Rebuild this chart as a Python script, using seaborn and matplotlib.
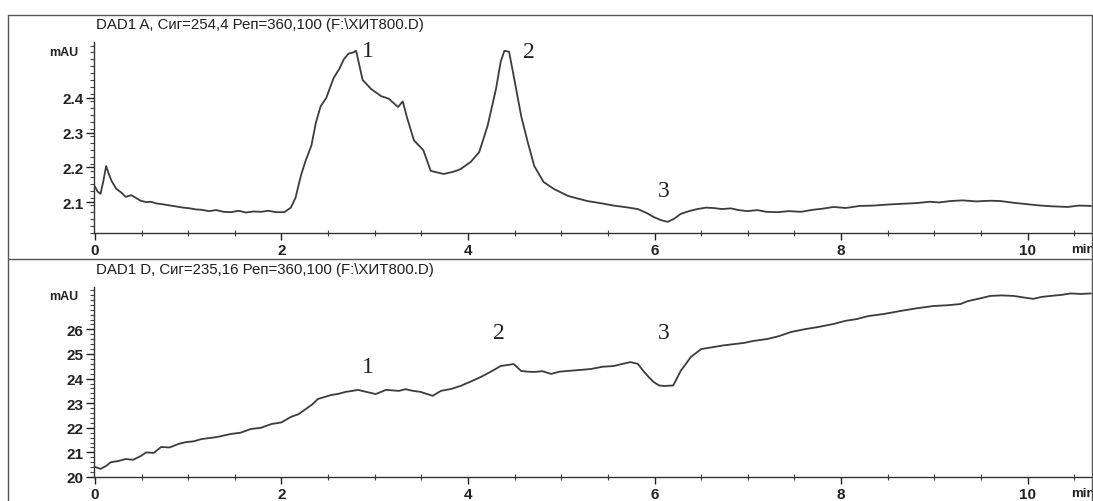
import numpy as np
import pandas as pd
import seaborn as sns
import matplotlib
matplotlib.use("Agg")
import matplotlib.pyplot as plt
from matplotlib.lines import Line2D
from matplotlib.ticker import MultipleLocator, FixedLocator

# ---- data ----
time_a = [0.00, 0.03, 0.06, 0.09, 0.12, 0.15, 0.18, 0.23, 0.28, 0.33, 0.39, 0.44,
          0.49, 0.55, 0.60, 0.66, 0.72, 0.81, 0.88, 0.95, 1.02, 1.08, 1.14, 1.22,
          1.30, 1.38, 1.46, 1.54, 1.62, 1.70, 1.78, 1.86, 1.94, 2.03, 2.10, 2.15,
          2.21, 2.26, 2.32, 2.37, 2.42, 2.48, 2.56, 2.62, 2.67, 2.72, 2.77, 2.80,
          2.83, 2.87, 2.96, 3.07, 3.15, 3.25, 3.30, 3.35, 3.42, 3.52, 3.60, 3.74,
          3.85, 3.92, 4.03, 4.12, 4.21, 4.30, 4.35, 4.39, 4.44, 4.49, 4.57, 4.64,
          4.71, 4.81, 4.92, 5.07, 5.18, 5.28, 5.42, 5.56, 5.70, 5.82, 5.92, 5.99,
          6.07, 6.14, 6.21, 6.28, 6.37, 6.46, 6.55, 6.63, 6.72, 6.82, 6.90, 7.00,
          7.10, 7.20, 7.32, 7.44, 7.57, 7.70, 7.80, 7.92, 8.05, 8.20, 8.35, 8.50,
          8.64, 8.80, 8.95, 9.05, 9.17, 9.30, 9.45, 9.60, 9.71, 9.85, 9.96, 10.10,
          10.25, 10.43, 10.55, 10.68]
signal_a = [2.145, 2.130, 2.124, 2.160, 2.204, 2.180, 2.160, 2.138, 2.128, 2.115, 2.120, 2.112,
            2.104, 2.100, 2.101, 2.096, 2.094, 2.090, 2.087, 2.084, 2.082, 2.079, 2.078, 2.074,
            2.077, 2.072, 2.071, 2.075, 2.070, 2.073, 2.072, 2.075, 2.071, 2.071, 2.084, 2.112,
            2.178, 2.220, 2.262, 2.330, 2.376, 2.400, 2.458, 2.484, 2.512, 2.528, 2.531, 2.536,
            2.500, 2.452, 2.426, 2.405, 2.398, 2.374, 2.390, 2.340, 2.278, 2.250, 2.190, 2.181,
            2.188, 2.195, 2.216, 2.244, 2.320, 2.426, 2.504, 2.536, 2.533, 2.463, 2.348, 2.273,
            2.204, 2.158, 2.138, 2.118, 2.110, 2.103, 2.097, 2.090, 2.085, 2.080, 2.068, 2.057,
            2.048, 2.043, 2.052, 2.066, 2.074, 2.080, 2.084, 2.083, 2.080, 2.082, 2.077, 2.074,
            2.077, 2.072, 2.071, 2.074, 2.072, 2.078, 2.081, 2.086, 2.083, 2.089, 2.090, 2.093,
            2.095, 2.097, 2.101, 2.099, 2.103, 2.105, 2.102, 2.104, 2.103, 2.098, 2.095, 2.091,
            2.088, 2.086, 2.090, 2.089]

time_d = [0.00, 0.06, 0.12, 0.17, 0.25, 0.33, 0.41, 0.49, 0.55, 0.63, 0.71, 0.80,
          0.90, 0.98, 1.06, 1.14, 1.30, 1.46, 1.56, 1.67, 1.78, 1.89, 2.00, 2.10,
          2.18, 2.26, 2.33, 2.39, 2.46, 2.53, 2.61, 2.69, 2.76, 2.82, 2.92, 3.01,
          3.12, 3.26, 3.33, 3.41, 3.49, 3.62, 3.71, 3.82, 3.92, 4.03, 4.14, 4.24,
          4.35, 4.42, 4.49, 4.57, 4.64, 4.71, 4.80, 4.89, 4.98, 5.07, 5.20, 5.32,
          5.44, 5.56, 5.66, 5.74, 5.82, 5.88, 5.94, 5.99, 6.05, 6.10, 6.20, 6.28,
          6.39, 6.50, 6.63, 6.74, 6.85, 6.96, 7.06, 7.21, 7.33, 7.46, 7.60, 7.76,
          7.92, 8.05, 8.17, 8.29, 8.45, 8.64, 8.80, 8.99, 9.14, 9.28, 9.36, 9.48,
          9.60, 9.72, 9.85, 9.95, 10.06, 10.15, 10.25, 10.36, 10.46, 10.57, 10.68]
signal_d = [20.41, 20.33, 20.45, 20.60, 20.65, 20.73, 20.70, 20.85, 21.00, 20.98, 21.22, 21.20,
            21.35, 21.42, 21.45, 21.54, 21.62, 21.75, 21.80, 21.95, 22.00, 22.15, 22.22, 22.44,
            22.55, 22.76, 22.95, 23.17, 23.25, 23.33, 23.38, 23.46, 23.50, 23.54, 23.45, 23.37,
            23.54, 23.50, 23.57, 23.50, 23.46, 23.30, 23.50, 23.58, 23.70, 23.88, 24.07, 24.27,
            24.51, 24.55, 24.59, 24.31, 24.28, 24.27, 24.30, 24.19, 24.28, 24.31, 24.35, 24.39,
            24.48, 24.51, 24.60, 24.67, 24.60, 24.31, 24.05, 23.86, 23.72, 23.70, 23.72, 24.31,
            24.88, 25.20, 25.28, 25.35, 25.40, 25.45, 25.53, 25.61, 25.72, 25.89, 26.00, 26.10,
            26.22, 26.35, 26.42, 26.54, 26.62, 26.75, 26.85, 26.95, 26.98, 27.03, 27.15, 27.25,
            27.36, 27.38, 27.36, 27.30, 27.24, 27.32, 27.36, 27.40, 27.46, 27.44, 27.46]

titles = ["DAD1 A, Сиг=254,4 Реп=360,100 (F:\\ХИТ800.D)",
          "DAD1 D, Сиг=235,16 Реп=360,100 (F:\\ХИТ800.D)"]
peak_labels = ["1", "2", "3"]
peak_pos_a = [(2.93, 2.538), (4.65, 2.535), (6.10, 2.132)]
peak_pos_d = [(2.93, 24.51), (4.33, 25.89), (6.10, 25.89)]
yticks_a = [2.1, 2.2, 2.3, 2.4]
yticks_d = [20, 21, 22, 23, 24, 25, 26]
xticks = [0, 2, 4, 6, 8, 10]

sns.set_theme(style="white")
plt.rcParams["font.family"] = ["Liberation Sans", "DejaVu Sans"]

W, H = 1093, 502
fig = plt.figure(figsize=(W / 100, H / 100), dpi=100)

line_col = "#3c3c3c"


def px(x0, y0, x1, y1):
    return [x0 / W, 1 - y1 / H, (x1 - x0) / W, (y1 - y0) / H]


panels = [
    dict(rect=px(94, 16, 1092, 234), t=time_a, v=signal_a, ylim=(2.011, 2.639),
         spine_top=2.561, mau=2.533, yticks=yticks_a, minor=0.02, title=titles[0],
         title_y=25, peaks=peak_pos_a),
    dict(rect=px(94, 260, 1092, 478), t=time_d, v=signal_d, ylim=(20.0, 28.86),
         spine_top=27.72, mau=27.36, yticks=yticks_d, minor=0.2, title=titles[1],
         title_y=270, peaks=peak_pos_d),
]

for p in panels:
    ax = fig.add_axes(p["rect"])
    df = pd.DataFrame({"t": p["t"], "v": p["v"]})
    sns.lineplot(data=df, x="t", y="v", ax=ax, color=line_col, lw=1.3,
                 estimator=None, sort=False)
    ax.set_xlim(-0.01, 10.69)
    ax.set_ylim(*p["ylim"])
    ax.set_xlabel("")
    ax.set_ylabel("")
    ax.set_facecolor("none")
    for s in ["top", "right"]:
        ax.spines[s].set_visible(False)
    ax.spines["left"].set_bounds(p["ylim"][0], p["spine_top"])
    for s in ["left", "bottom"]:
        ax.spines[s].set_color("#333333")
        ax.spines[s].set_linewidth(1.0)

    ax.xaxis.set_major_locator(FixedLocator(xticks))
    ax.xaxis.set_minor_locator(MultipleLocator(0.5))
    ax.yaxis.set_major_locator(FixedLocator(p["yticks"]))
    ax.yaxis.set_minor_locator(FixedLocator(
        np.arange(p["ylim"][0], p["spine_top"], p["minor"])))
    ax.tick_params(axis="y", which="major", direction="out", length=6, width=1,
                   pad=1.5, labelsize=11, colors="#222222", left=True)
    ax.tick_params(axis="y", which="minor", direction="out", length=3, width=0.8,
                   left=True, colors="#444444")
    ax.tick_params(axis="x", which="major", direction="out", length=5, width=1,
                   pad=2, labelsize=11, colors="#222222", bottom=True)
    ax.tick_params(axis="x", which="minor", direction="inout", length=4, width=0.8,
                   bottom=True, colors="#444444")
    for lab in ax.get_xticklabels() + ax.get_yticklabels():
        lab.set_fontweight("bold")

    ax.text(-0.016, p["mau"], "mAU", transform=ax.get_yaxis_transform(),
            ha="right", va="center", fontsize=9, fontweight="bold", color="#222222")
    ax.text(0.979, -0.075, "min", transform=ax.transAxes, ha="left", va="center",
            fontsize=9.5, fontweight="bold", color="#222222", clip_on=False)

    fig.text(96 / W, 1 - p["title_y"] / H, p["title"], ha="left", va="center",
             fontsize=10.8, color="#1e1e1e")

    for lab, (tx, ty) in zip(peak_labels, p["peaks"]):
        ax.text(tx, ty, lab, ha="center", va="center", fontsize=17,
                family=["Liberation Serif", "DejaVu Serif"], color="#222222")

# outer frame and divider between the two panels
frame_col = "#555555"
for xs, ys in [([8, 1092], [16, 16]), ([8, 1092], [260, 260]),
               ([8, 8], [16, 502]), ([1092, 1092], [16, 502])]:
    fig.add_artist(Line2D([x / W for x in xs], [1 - y / H for y in ys],
                          color=frame_col, lw=1.0, transform=fig.transFigure))

fig.savefig("out.png", dpi=100, facecolor="white")
